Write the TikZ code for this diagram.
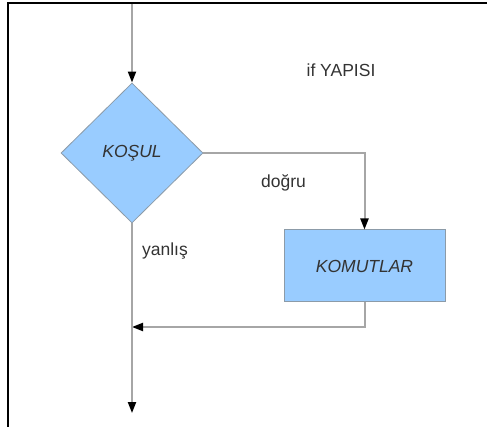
\documentclass[tikz,border=0pt]{standalone}
\usepackage{fontspec}
\setmainfont{Liberation Sans}
\usetikzlibrary{shapes.geometric,arrows.meta}
\definecolor{shapefill}{HTML}{99CCFF}
\definecolor{shapeline}{HTML}{8C9BA8}
\definecolor{conn}{HTML}{A6A6A6}
\definecolor{txt}{HTML}{333333}
\tikzset{
  flow/.style={draw=conn, line width=2pt, -{Triangle[black,length=11pt,width=8pt]}},
  plainflow/.style={draw=conn, line width=2pt},
  decision/.style={diamond, draw=shapeline, fill=shapefill, line width=0.8pt, minimum width=142pt, minimum height=140pt, inner sep=0pt, font=\fontsize{17.5}{20}\selectfont\itshape, text=txt},
  process/.style={rectangle, draw=shapeline, fill=shapefill, line width=1pt, minimum width=161pt, minimum height=72pt, inner sep=0pt, font=\fontsize{17.5}{20}\selectfont\itshape, text=txt},
  lbl/.style={font=\fontsize{17.5}{20}\selectfont, text=txt, inner sep=0pt}
}
\begin{document}
\begin{tikzpicture}[x=1pt,y=-1pt]
\useasboundingbox (0,0) rectangle (487,427);
\fill[white] (0,0) rectangle (487,427);
\draw[black, line width=1.2pt] (8,427) -- (8,3) -- (487,3);
\coordinate (start) at (132,4);
\node[decision] (kosul) at (132,153) {KOŞUL};
\node[process] (komut) at (364.5,266) {KOMUTLAR};
\coordinate (join) at (132,327);
\coordinate (end) at (132,413);
\node[lbl] (title) at (341,70.5) {if YAPISI};
\node[lbl] (dogru) at (283.5,183) {doğru};
\node[lbl] (yanlis) at (165,251) {yanlış};
\draw[flow] (start) -- (kosul.north);
\draw[flow] (kosul.east) -| (komut.north);
\draw[flow] (komut.south) |- (join);
\draw[flow] (kosul.south) -- (end);
\end{tikzpicture}
\end{document}
